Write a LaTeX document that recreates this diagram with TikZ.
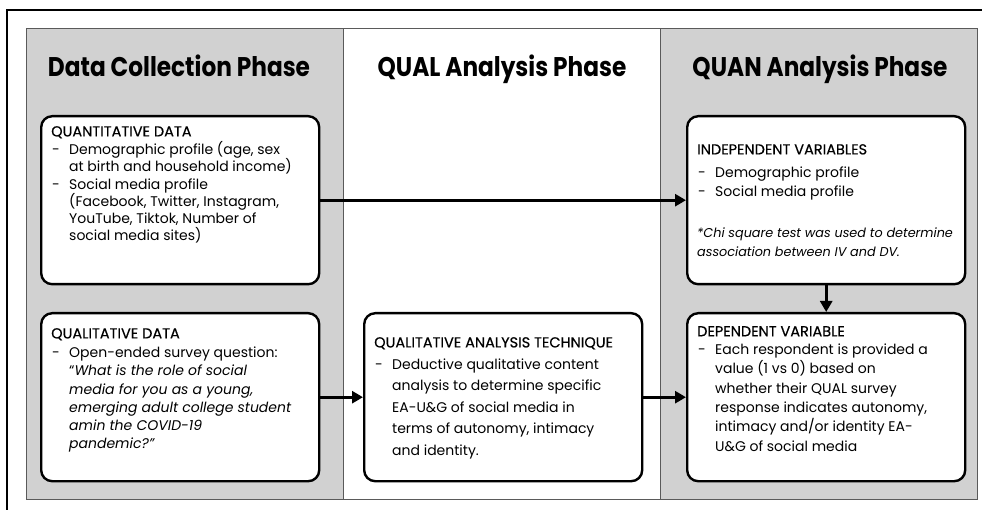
\documentclass[tikz,border=0pt]{standalone}
\usepackage{fontspec}
\setmainfont{Poppins}
\newfontfamily\phasefont{Poppins}[FakeStretch=0.86]
\newfontfamily\headfont{Poppins}[FakeBold=0.4]
\usetikzlibrary{arrows.meta, positioning, backgrounds}

\definecolor{panelgray}{RGB}{209,209,209}
\definecolor{panelline}{RGB}{90,90,90}

% box contents: heading, dashed items with a hanging indent
\newcommand{\boxhead}[2][1pt]{{\headfont\fontsize{14.5}{17}\selectfont #2}\par\vspace{#1}}
\newcommand{\dashitem}[1]{\par\hangindent=18pt\hangafter=1\noindent\makebox[18pt][l]{\hspace{1pt}-}#1\par}
\newcommand{\boxtext}[3]{\parbox[c][150pt][t]{258pt}{\raggedright\baselineskip=#1\vspace*{#2}#3}}

\tikzset{
  panel/.style   = {draw=panelline, line width=0.8pt, fill=panelgray, minimum width=317pt, minimum height=471pt, anchor=north west, inner sep=0pt},
  phase/.style   = {font=\phasefont\bfseries\fontsize{27}{30}\selectfont, anchor=base, inner sep=0pt},
  infobox/.style = {draw, line width=2.4pt, rounded corners=11pt, fill=white, anchor=north west, inner xsep=10pt, inner ysep=9pt, font=\fontsize{14}{17.5}\selectfont},
  flow/.style    = {-{Triangle[length=11pt,width=12pt]}, line width=3pt},
}

\begin{document}
\begin{tikzpicture}[x=1pt, y=-1pt]
    \useasboundingbox (0,0) rectangle (982,510);
    \draw[line width=1.2pt] (982,10) -- (7,10) -- (7,510);

    % three phase columns
    \node (colData) [panel] at (26,28) {};
    \node (colQual) [panel, fill=white] at (343,28) {};
    \node (colQuan) [panel] at (660,28) {};
    \node (hdrData) [phase] at (179,77) {Data Collection Phase};
    \node (hdrQual) [phase] at (502,77) {QUAL Analysis Phase};
    \node (hdrQuan) [phase] at (820,77) {QUAN Analysis Phase};

    \node (quant) [infobox] at (40,115) {\boxtext{17.2pt}{1pt}{%
        \boxhead{QUANTITATIVE DATA}
        \dashitem{Demographic profile (age, sex\newline at birth and household income)}
        \dashitem{Social media profile\newline (Facebook, Twitter, Instagram,\newline YouTube, Tiktok, Number of\newline social media sites)}}};
    \node (qualdata) [infobox] at (40,312) {\boxtext{18.2pt}{6pt}{%
        \boxhead{QUALITATIVE DATA}
        \dashitem{Open-ended survey question:\newline ``\textit{What is the role of social\newline media for you as a young,\newline emerging adult college student\newline amin the COVID-19\newline pandemic?''}}}};
    \node (qualan) [infobox] at (363,312) {\boxtext{21.6pt}{15pt}{%
        \boxhead[0pt]{QUALITATIVE ANALYSIS TECHNIQUE}
        \dashitem{Deductive qualitative content\newline analysis to determine specific\newline EA-U\&G of social media in\newline terms of autonomy, intimacy\newline and identity.}}};
    \node (iv) [infobox] at (686,115) {\boxtext{19.5pt}{19pt}{%
        \boxhead[3.5pt]{INDEPENDENT VARIABLES}
        \dashitem{Demographic profile}
        \dashitem{Social media profile}
        \vspace{22pt}
        {\fontsize{12.8}{19}\selectfont\itshape *Chi square test was used to determine\newline association between IV and DV.\par}}};
    \node (dv) [infobox] at (686,312) {\boxtext{19.3pt}{4pt}{%
        \boxhead[-1pt]{DEPENDENT VARIABLE}
        \dashitem{Each respondent is provided a\newline value (1 vs 0) based on\newline whether their QUAL survey\newline response indicates autonomy,\newline intimacy and/or identity EA-\newline U\&G of social media}}};

    \draw [flow] (quant) -- (iv);
    \draw [flow] (qualdata) -- (qualan);
    \draw [flow] (qualan) -- (dv);
    \draw [flow] (iv) -- (dv);
\end{tikzpicture}
\end{document}
